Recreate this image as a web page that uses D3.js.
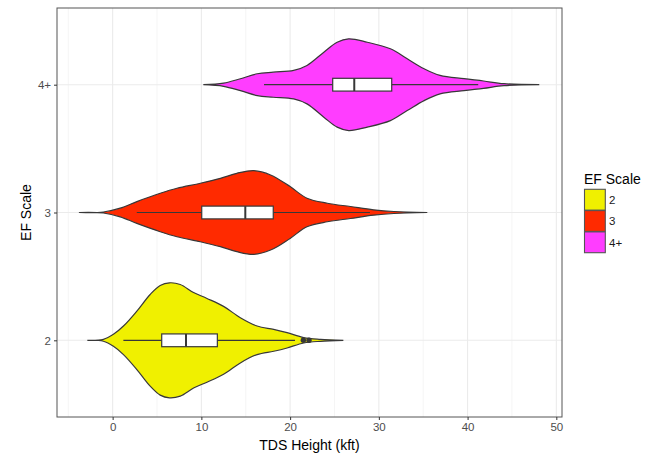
<!DOCTYPE html>
<html>
<head>
<meta charset="utf-8">
<script src="https://cdn.jsdelivr.net/npm/d3@7"></script>
<style>
  html, body { margin: 0; padding: 0; background: #fff; }
  svg { display: block; font-family: "Liberation Sans", Arial, Helvetica, sans-serif; }
</style>
</head>
<body>
<svg id="chart" width="655" height="457"></svg>
<script>
// ---------- data ----------
const categories = ["2", "3", "4+"];
const fillColors = ["#F0F000", "#FF2A00", "#FF3DFF"];
const xTicks = [0, 10, 20, 30, 40, 50];
const xMinorTicks = [-5, 5, 15, 25, 35, 45];
const xLimits = [-6.27, 50.64];

// violin profiles: [TDS height (kft), relative density]
const violin2 = [[-2.85,0],[-1.04,0.017],[0.09,0.104],[1.22,0.248],[2.73,0.508],[4.23,0.797],[5.36,0.953],[6.41,1.0],[7.62,0.97],[9.12,0.83],[10.63,0.728],[12.5,0.59],[14.39,0.393],[16.28,0.248],[18.15,0.19],[19.66,0.133],[21.53,0.047],[23.42,0.017],[26.0,0]];
const violin3 = [[-3.75,0],[-1.04,0.009],[0.85,0.075],[2.73,0.19],[5.36,0.334],[7.25,0.421],[9.88,0.508],[12.14,0.594],[14.0,0.681],[15.9,0.728],[17.8,0.653],[20.0,0.45],[21.9,0.248],[24.2,0.161],[26.8,0.104],[29.4,0.047],[31.7,0.017],[35.46,0]];
const violin4 = [[10.22,0],[12.5,0.028],[14.4,0.104],[16.3,0.19],[18.1,0.218],[20.4,0.248],[21.9,0.334],[23.8,0.565],[25.3,0.738],[26.6,0.797],[28.7,0.738],[31.3,0.624],[33.2,0.45],[35.1,0.277],[36.9,0.161],[39.6,0.104],[41.8,0.064],[44.1,0.017],[48.08,0]];
const violins = [violin2, violin3, violin4];

// box statistics: [lower whisker, Q1, median, Q3, upper whisker]
const boxStats = [
  [1.21, 5.53, 8.27, 11.8, 20.55],
  [2.72, 10.04, 14.95, 18.1, 29.0],
  [17.06, 24.8, 27.23, 31.45, 41.2]
];
const outliers = [[21.49, 22.13], [], []];

// ---------- layout ----------
const panel = { left: 57, right: 562, top: 8, bottom: 417 };
const svg = d3.select("#chart");

const x = d3.scaleLinear().domain(xLimits).range([panel.left, panel.right]);
const y = d3.scalePoint().domain(categories).range([panel.bottom, panel.top]).padding(0.6);
const step = y.step();
const maxHalf = 0.45 * step;
const boxHalf = 0.05 * step;

const outline = "#383838";

// grid
const grid = svg.append("g");
grid.selectAll("line.minor").data(xMinorTicks).join("line")
  .attr("x1", d => x(d)).attr("x2", d => x(d))
  .attr("y1", panel.top).attr("y2", panel.bottom)
  .attr("stroke", "#F2F2F2").attr("stroke-width", 0.8);
grid.selectAll("line.majx").data(xTicks).join("line")
  .attr("x1", d => x(d)).attr("x2", d => x(d))
  .attr("y1", panel.top).attr("y2", panel.bottom)
  .attr("stroke", "#EBEBEB").attr("stroke-width", 1.1);
grid.selectAll("line.majy").data(categories).join("line")
  .attr("x1", panel.left).attr("x2", panel.right)
  .attr("y1", d => y(d)).attr("y2", d => y(d))
  .attr("stroke", "#EBEBEB").attr("stroke-width", 1.1);

// violins
categories.forEach((c, i) => {
  const cy = y(c);
  const area = d3.area()
    .x(d => x(d[0]))
    .y0(d => cy - d[1] * maxHalf)
    .y1(d => cy + d[1] * maxHalf)
    .curve(d3.curveCatmullRom.alpha(0.5));
  svg.append("path")
    .datum(violins[i])
    .attr("d", area)
    .attr("fill", fillColors[i])
    .attr("stroke", outline)
    .attr("stroke-width", 1.2);
});

// boxplots
categories.forEach((c, i) => {
  const cy = y(c);
  const [lo, q1, med, q3, hi] = boxStats[i];
  const g = svg.append("g");
  g.append("line").attr("x1", x(lo)).attr("x2", x(q1)).attr("y1", cy).attr("y2", cy)
    .attr("stroke", outline).attr("stroke-width", 1.2);
  g.append("line").attr("x1", x(q3)).attr("x2", x(hi)).attr("y1", cy).attr("y2", cy)
    .attr("stroke", outline).attr("stroke-width", 1.2);
  g.append("rect").attr("x", x(q1)).attr("y", cy - boxHalf)
    .attr("width", x(q3) - x(q1)).attr("height", 2 * boxHalf)
    .attr("fill", "#fff").attr("stroke", outline).attr("stroke-width", 1.2);
  g.append("line").attr("x1", x(med)).attr("x2", x(med))
    .attr("y1", cy - boxHalf).attr("y2", cy + boxHalf)
    .attr("stroke", outline).attr("stroke-width", 2);
  g.selectAll("circle").data(outliers[i]).join("circle")
    .attr("cx", d => x(d)).attr("cy", cy).attr("r", 2.7)
    .attr("fill", outline);
});

// panel border
svg.append("rect")
  .attr("x", panel.left).attr("y", panel.top)
  .attr("width", panel.right - panel.left).attr("height", panel.bottom - panel.top)
  .attr("fill", "none").attr("stroke", "#555").attr("stroke-width", 1);

// axes
const xAxis = d3.axisBottom(x).tickValues(xTicks).tickSize(3).tickPadding(3);
const gx = svg.append("g").attr("transform", `translate(0,${panel.bottom})`).call(xAxis);
gx.select(".domain").remove();
gx.selectAll(".tick line").attr("stroke", "#333");
gx.selectAll(".tick text").attr("fill", "#4D4D4D").attr("font-size", "11.5px")
  .attr("font-family", "Liberation Sans, Arial, sans-serif");

const yAxis = d3.axisLeft(y).tickSize(3).tickPadding(3);
const gy = svg.append("g").attr("transform", `translate(${panel.left},0)`).call(yAxis);
gy.select(".domain").remove();
gy.selectAll(".tick line").attr("stroke", "#333");
gy.selectAll(".tick text").attr("fill", "#4D4D4D").attr("font-size", "11.5px")
  .attr("font-family", "Liberation Sans, Arial, sans-serif");

// axis titles
svg.append("text").attr("x", (panel.left + panel.right) / 2).attr("y", 450)
  .attr("text-anchor", "middle").attr("font-size", "14px").attr("fill", "#000")
  .text("TDS Height (kft)");
svg.append("text")
  .attr("transform", `translate(31,${(panel.top + panel.bottom) / 2}) rotate(-90)`)
  .attr("text-anchor", "middle").attr("font-size", "14px").attr("fill", "#000")
  .text("EF Scale");

// legend
const leg = svg.append("g").attr("transform", "translate(584,0)");
leg.append("text").attr("x", 0).attr("y", 183.5).attr("font-size", "14px").attr("fill", "#000")
  .text("EF Scale");
const keySize = 21.3;
categories.forEach((c, i) => {
  const ky = 189.3 + i * keySize;
  leg.append("rect").attr("x", 0.5).attr("y", ky)
    .attr("width", keySize - 0.5).attr("height", keySize - 0.5)
    .attr("fill", fillColors[i]).attr("stroke", "#555").attr("stroke-width", 1.1);
  leg.append("text").attr("x", 25).attr("y", ky + keySize / 2 + 4)
    .attr("font-size", "11.5px").attr("fill", "#1a1a1a").text(c);
});
</script>
</body>
</html>
